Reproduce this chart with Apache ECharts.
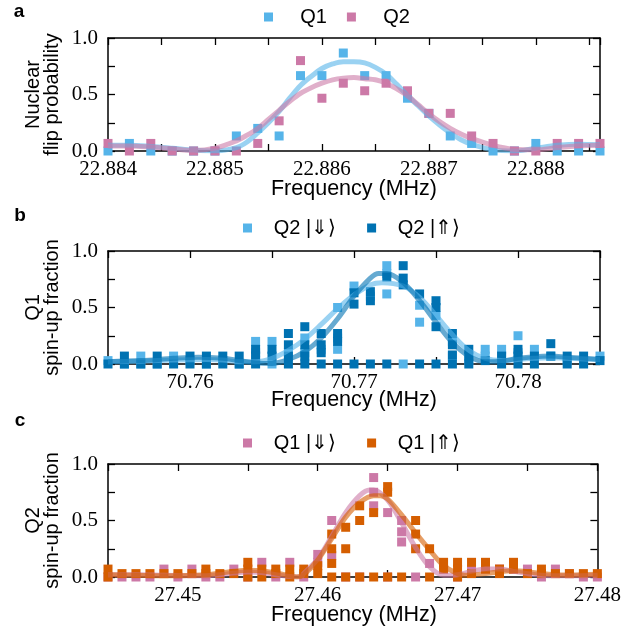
<!DOCTYPE html>
<html><head><meta charset="utf-8">
<script src="https://cdn.jsdelivr.net/npm/echarts@6/dist/echarts.min.js"></script>
<style>html,body{margin:0;padding:0;background:#fff}#c{width:624px;height:630px}</style>
</head><body><div id="c"></div>
<script>
// ---------- Panel a ----------
const aFreq = [22.8840,22.8842,22.8844,22.8846,22.8848,22.8850,22.8852,22.8854,22.8856,22.8858,22.8860,22.8862,
               22.8864,22.8866,22.8868,22.8870,22.8872,22.8874,22.8876,22.8878,22.8880,22.8882,22.8884,22.8886];
const aQ1 = [0,0.067,0,0,0,0,0.133,0.2,0.133,0.667,0.667,0.867,0.667,0.667,0.467,0.333,0.133,0.067,0,0,0.067,0,0,0];
const aQ2 = [0.067,0,0.067,0,0,0,0,0.067,0.267,0.8,0.467,0.6,0.533,0.6,0.533,0.333,0.333,0.133,0.067,0,0,0.067,0.067,0.067];
const aFitFreq = [22.8840,22.8842,22.8844,22.8846,22.8848,22.8850,22.8852,22.8853,22.8854,22.8855,22.8856,22.8857,22.8858,22.8859,
                  22.8860,22.8861,22.8862,22.8863,22.8864,22.8865,22.8866,22.8867,22.8868,22.8869,22.8870,22.8871,22.8872,22.8873,
                  22.8874,22.8876,22.8878,22.8880,22.8882,22.8884,22.8886];
const aFitQ1 = [0.05,0.05,0.04,0.025,0.008,0.0,0.03,0.08,0.16,0.25,0.35,0.47,0.58,0.66,
                0.73,0.77,0.79,0.79,0.78,0.74,0.68,0.59,0.49,0.4,0.31,0.23,0.16,0.1,
                0.06,0.01,0.0,0.025,0.05,0.06,0.055];
const aFitQ2 = [0.045,0.045,0.035,0.02,0.005,0.025,0.09,0.14,0.2,0.28,0.36,0.44,0.51,0.56,
                0.6,0.63,0.645,0.65,0.64,0.63,0.6,0.55,0.49,0.41,0.33,0.26,0.2,0.15,
                0.11,0.05,0.015,0.01,0.03,0.045,0.05];

// ---------- Panel b ----------
const bDown = [[70.755,0.03],[70.756,0.0],[70.757,0.07],[70.757,0.0],[70.758,0.0],[70.759,0.07],[70.759,0.03],
 [70.760,0.03],[70.761,0.0],[70.762,0.03],[70.763,0.0],[70.764,0.2],[70.764,0.1],[70.764,0.03],[70.765,0.2],[70.765,0.0],
 [70.766,0.1],[70.767,0.23],[70.767,0.1],[70.768,0.13],[70.769,0.5],[70.769,0.23],[70.769,0.13],[70.770,0.69],
 [70.771,0.6],[70.772,0.87],[70.772,0.8],[70.772,0.62],[70.773,0.0],[70.774,0.52],[70.774,0.37],[70.775,0.43],
 [70.776,0.2],[70.776,0.07],[70.777,0.03],[70.778,0.13],[70.778,0.07],[70.779,0.13],[70.779,0.07],[70.780,0.25],[70.780,0.1],
 [70.781,0.13],[70.782,0.07],[70.783,0.03],[70.784,0.03],[70.785,0.07]];
const bUp = [[70.755,0.0],[70.756,0.07],[70.756,0.0],[70.757,0.0],[70.758,0.07],[70.758,0.0],[70.759,0.0],
 [70.760,0.07],[70.760,0.0],[70.761,0.07],[70.761,0.0],[70.762,0.07],[70.762,0.0],[70.763,0.07],[70.763,0.0],
 [70.764,0.13],[70.764,0.07],[70.764,0.0],[70.765,0.13],[70.765,0.07],
 [70.766,0.27],[70.766,0.17],[70.766,0.07],[70.766,0.0],[70.767,0.33],[70.767,0.17],[70.767,0.07],[70.767,0.0],
 [70.768,0.27],[70.768,0.17],[70.768,0.1],[70.768,0.0],[70.769,0.27],[70.769,0.2],[70.769,0.0],
 [70.770,0.63],[70.770,0.53],[70.770,0.0],[70.771,0.64],[70.771,0.56],[70.771,0.0],[70.772,0.77],[70.772,0.0],
 [70.773,0.87],[70.773,0.76],[70.773,0.7],[70.774,0.62],[70.774,0.0],[70.775,0.56],[70.775,0.5],[70.775,0.33],[70.775,0.0],
 [70.776,0.27],[70.776,0.17],[70.776,0.08],[70.776,0.0],[70.777,0.13],[70.777,0.07],[70.777,0.0],[70.778,0.03],
 [70.779,0.07],[70.779,0.0],[70.780,0.13],[70.780,0.07],[70.780,0.0],[70.781,0.07],[70.781,0.0],[70.782,0.18],[70.782,0.07],
 [70.783,0.07],[70.783,0.0],[70.784,0.07],[70.784,0.0],[70.785,0.03]];
const bFitUpFreq = [70.755,70.757,70.759,70.7605,70.762,70.763,70.764,70.765,70.766,70.767,70.768,70.769,70.770,70.771,70.7715,
 70.772,70.773,70.774,70.775,70.776,70.777,70.778,70.779,70.780,70.781,70.782,70.783,70.785];
const bFitUp = [0.02,0.03,0.05,0.06,0.05,0.03,0.01,0.005,0.04,0.11,0.23,0.4,0.6,0.76,0.8,
 0.8,0.72,0.56,0.37,0.19,0.07,0.02,0.025,0.05,0.065,0.07,0.06,0.04];
const bFitDownFreq = [70.755,70.757,70.759,70.761,70.762,70.763,70.764,70.765,70.766,70.767,70.768,70.769,70.770,70.771,70.7717,
 70.773,70.774,70.775,70.776,70.777,70.778,70.779,70.780,70.781,70.782,70.783,70.785];
const bFitDown = [0.02,0.025,0.035,0.04,0.035,0.02,0.02,0.05,0.12,0.22,0.35,0.49,0.61,0.7,0.72,
 0.69,0.59,0.43,0.26,0.12,0.05,0.03,0.04,0.05,0.055,0.05,0.04];

// ---------- Panel c ----------
const cDown = [[27.445,0.0],[27.446,0.0],[27.447,0.0],[27.448,0.0],[27.449,0.07],[27.450,0.0],[27.451,0.07],[27.452,0.0],
 [27.453,0.0],[27.454,0.07],[27.455,0.0],[27.456,0.13],[27.457,0.0],[27.458,0.13],[27.459,0.0],[27.460,0.2],[27.460,0.13],
 [27.461,0.5],[27.461,0.19],[27.462,0.0],[27.463,0.0],[27.464,0.88],[27.464,0.75],[27.464,0.63],[27.465,0.57],[27.465,0.0],
 [27.466,0.5],[27.466,0.4],[27.466,0.31],[27.467,0.0],[27.468,0.12],[27.469,0.07],[27.470,0.0],[27.471,0.07],[27.472,0.07],
 [27.473,0.07],[27.474,0.07],[27.475,0.07],[27.476,0.0],[27.477,0.07],[27.478,0.03],[27.479,0.0],[27.480,0.0]];
const cUp = [[27.445,0.07],[27.445,0.0],[27.446,0.03],[27.447,0.03],[27.448,0.03],[27.449,0.03],[27.450,0.03],[27.451,0.03],
 [27.452,0.07],[27.452,0.03],[27.453,0.03],[27.454,0.03],[27.455,0.13],[27.455,0.07],[27.455,0.0],[27.456,0.07],[27.456,0.0],
 [27.457,0.07],[27.457,0.03],[27.458,0.07],[27.458,0.0],[27.459,0.07],[27.459,0.03],[27.460,0.1],[27.460,0.03],
 [27.461,0.38],[27.461,0.25],[27.461,0.12],[27.461,0.0],[27.462,0.44],[27.462,0.25],[27.462,0.0],[27.463,0.63],[27.463,0.5],[27.463,0.0],
 [27.464,0.57],[27.464,0.0],[27.465,0.8],[27.465,0.75],[27.465,0.0],[27.466,0.0],[27.467,0.5],[27.467,0.38],[27.467,0.25],
 [27.468,0.25],[27.468,0.0],[27.469,0.13],[27.469,0.07],[27.470,0.13],[27.470,0.07],[27.470,0.0],[27.471,0.13],[27.471,0.03],
 [27.472,0.13],[27.472,0.07],[27.473,0.07],[27.473,0.03],[27.474,0.13],[27.474,0.07],[27.475,0.03],[27.476,0.07],[27.476,0.03],
 [27.477,0.03],[27.478,0.03],[27.479,0.03],[27.480,0.03]];
const cFitDownFreq = [27.445,27.447,27.449,27.451,27.452,27.453,27.454,27.455,27.456,27.457,27.458,27.4588,27.459,27.460,27.461,
 27.462,27.463,27.4637,27.464,27.465,27.466,27.467,27.468,27.469,27.470,27.471,27.472,27.473,27.474,27.475,27.476,27.477,27.478,27.480];
const cFitDown = [0.02,0.02,0.015,0.01,0.012,0.02,0.035,0.045,0.04,0.02,0.005,0.0,0.03,0.16,0.36,
 0.57,0.72,0.77,0.77,0.68,0.48,0.26,0.09,0.015,0.02,0.05,0.07,0.07,0.05,0.03,0.015,0.01,0.01,0.015];
const cFitUpFreq = [27.445,27.447,27.449,27.451,27.452,27.453,27.454,27.455,27.456,27.457,27.458,27.4585,27.459,27.460,27.461,
 27.462,27.463,27.464,27.4645,27.465,27.466,27.467,27.468,27.469,27.470,27.4705,27.471,27.472,27.473,27.474,27.475,27.476,27.477,27.478,27.480];
const cFitUp = [0.02,0.015,0.01,0.015,0.02,0.035,0.05,0.06,0.055,0.035,0.01,0.0,0.02,0.15,0.34,
 0.53,0.66,0.72,0.72,0.69,0.55,0.39,0.24,0.1,0.03,0.015,0.018,0.03,0.047,0.055,0.047,0.03,0.02,0.018,0.025];

// ---------- styling ----------
const C_SKY = '#56B4E9', C_PINK = '#CC79A7', C_BLUE = '#0072B2', C_ORANGE = '#D55E00';
const SANS = '"Liberation Sans", Arial, Helvetica, sans-serif';
const SERIF = '"Liberation Serif", "Times New Roman", serif';
const panelTops = [38, 251, 464];
const PH = 113, PL = 108, PR = 24;

const grids = panelTops.map(t => ({left: PL, right: PR, top: t, height: PH}));

function fmtMultiple(step, digits) {
  return v => {
    const r = Math.round(v / step);
    return Math.abs(v / step - r) < 1e-4 ? (r * step).toFixed(digits) : '';
  };
}
const lineSty = {color: '#000', width: 1.5};
const tickSty = {show: true, inside: true, length: 7, lineStyle: {color: '#000', width: 1.3}};
function xPair(gi, min, max, interval, step, digits) {
  const base = {type: 'value', gridIndex: gi, min, max, interval,
    axisLine: {show: true, onZero: false, lineStyle: lineSty}, axisTick: tickSty, splitLine: {show: false}};
  return [
    Object.assign({}, base, {position: 'bottom', axisLabel: {show: true, margin: 8, color: '#000',
      fontFamily: SERIF, fontSize: 21, formatter: fmtMultiple(step, digits)}}),
    Object.assign({}, base, {position: 'top', axisLabel: {show: false}})
  ];
}
function yPair(gi) {
  const base = {type: 'value', gridIndex: gi, min: 0, max: 1, interval: 0.25,
    axisLine: {show: true, onZero: false, lineStyle: lineSty}, axisTick: tickSty, splitLine: {show: false}};
  return [
    Object.assign({}, base, {position: 'left', axisLabel: {show: true, margin: 10, color: '#000',
      fontFamily: SERIF, fontSize: 21, formatter: fmtMultiple(0.5, 1)}}),
    Object.assign({}, base, {position: 'right', axisLabel: {show: false}})
  ];
}
const xAxis = [].concat(
  xPair(0, 22.884, 22.8886, 0.0005, 0.001, 3),
  xPair(1, 70.755, 70.785, 0.005, 0.01, 2),
  xPair(2, 27.445, 27.48, 0.005, 0.01, 2));
const yAxis = [].concat(yPair(0), yPair(1), yPair(2));

function scatter(name, gi, data, color) {
  return {name, type: 'scatter', xAxisIndex: 2 * gi, yAxisIndex: 2 * gi, data,
    symbol: 'rect', symbolSize: 9, itemStyle: {color, opacity: 1}, z: 2, silent: true};
}
function fit(name, gi, xs, ys, color) {
  return {name, type: 'line', xAxisIndex: 2 * gi, yAxisIndex: 2 * gi,
    data: xs.map((x, i) => [x, ys[i]]), smooth: 0.35, showSymbol: false, symbol: 'none',
    lineStyle: {color, width: 5, opacity: 0.6}, z: 3, silent: true};
}
const zip = (xs, ys) => xs.map((x, i) => [x, ys[i]]);

const series = [
  scatter('Q1', 0, zip(aFreq, aQ1), C_SKY),
  scatter('Q2', 0, zip(aFreq, aQ2), C_PINK),
  fit('fitA1', 0, aFitFreq, aFitQ1, C_SKY),
  fit('fitA2', 0, aFitFreq, aFitQ2, C_PINK),
  scatter('Q2 |\u21D3\u27E9', 1, bDown, C_SKY),
  scatter('Q2 |\u21D1\u27E9', 1, bUp, C_BLUE),
  fit('fitB1', 1, bFitDownFreq, bFitDown, C_SKY),
  fit('fitB2', 1, bFitUpFreq, bFitUp, C_BLUE),
  scatter('Q1 |\u21D3\u27E9', 2, cDown, C_PINK),
  scatter('Q1 |\u21D1\u27E9', 2, cUp, C_ORANGE),
  fit('fitC1', 2, cFitDownFreq, cFitDown, C_PINK),
  fit('fitC2', 2, cFitUpFreq, cFitUp, C_ORANGE)
];

function legend(names, left, top, gap, pad) {
  return {data: names, left, top, orient: 'horizontal', icon: 'rect', itemWidth: 9, itemHeight: 9,
    itemGap: gap, selectedMode: false, padding: 0,
    formatter: n => pad + n,
    textStyle: {fontFamily: SANS, fontSize: 20, color: '#000'}};
}
const legends = [
  legend(['Q1', 'Q2'], 264, 7, 20, '    '),
  legend(['Q2 |\u21D3\u27E9', 'Q2 |\u21D1\u27E9'], 243, 218, 31, '   '),
  legend(['Q1 |\u21D3\u27E9', 'Q1 |\u21D1\u27E9'], 243, 433, 31, '   ')
];

function txt(x, y, text, opts) {
  return Object.assign({type: 'text', x, y, silent: true,
    style: Object.assign({text, fill: '#000', fontFamily: SANS, fontSize: 20, align: 'center', verticalAlign: 'middle'}, opts.style || {})},
    opts.el || {});
}
const graphic = [
  txt(19, 12, 'a', {style: {fontWeight: 'bold', fontSize: 19}}),
  txt(20, 216, 'b', {style: {fontWeight: 'bold', fontSize: 19}}),
  txt(20, 421, 'c', {style: {fontWeight: 'bold', fontSize: 19}}),
  txt(354, 189, 'Frequency (MHz)', {style: {fontSize: 21.5}}),
  txt(354, 400, 'Frequency (MHz)', {style: {fontSize: 21.5}}),
  txt(354, 615, 'Frequency (MHz)', {style: {fontSize: 21.5}}),
  txt(42.5, 94.5, 'Nuclear\nflip probability', {style: {lineHeight: 19}, el: {rotation: Math.PI / 2}}),
  txt(42.5, 307.5, 'Q1\nspin-up fraction', {style: {lineHeight: 19}, el: {rotation: Math.PI / 2}}),
  txt(42.5, 520.5, 'Q2\nspin-up fraction', {style: {lineHeight: 19}, el: {rotation: Math.PI / 2}})
];

const chart = echarts.init(document.getElementById('c'), null, {renderer: 'canvas'});
chart.setOption({
  animation: false,
  backgroundColor: '#fff',
  grid: grids,
  xAxis, yAxis, series,
  legend: legends,
  graphic
});
</script></body></html>
